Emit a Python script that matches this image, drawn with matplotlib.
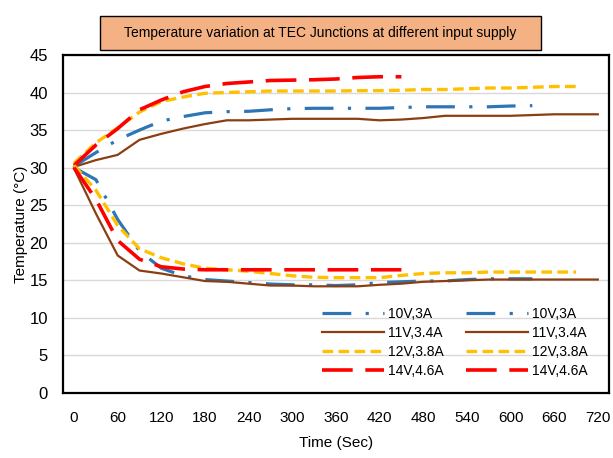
import numpy as np
import matplotlib
matplotlib.use("Agg")
from matplotlib import pyplot as plt
from matplotlib.patches import Rectangle

plt.rcParams['font.family'] = ['Liberation Sans', 'DejaVu Sans']

# time axis, samples every 30 s
time = np.arange(0, 721, 30)

# hot side (heating) readings
blue_heat = [30.2, 32.0, 33.7, 35.0, 36.2, 36.8, 37.3, 37.45, 37.5, 37.7, 37.85, 37.9,
             37.9, 37.9, 37.9, 38.0, 38.1, 38.1, 38.1, 38.1, 38.2, 38.25]
brown_heat = [30.1, 31.0, 31.7, 33.7, 34.5, 35.2, 35.8, 36.3, 36.3, 36.4, 36.5, 36.5,
              36.5, 36.5, 36.3, 36.4, 36.6, 36.9, 36.9, 36.9, 36.9, 37.0, 37.1, 37.1, 37.1]
yellow_heat = [30.6, 33.3, 35.3, 37.4, 38.8, 39.4, 39.9, 40.0, 40.1, 40.2, 40.2, 40.2,
               40.2, 40.25, 40.25, 40.3, 40.4, 40.4, 40.5, 40.6, 40.6, 40.7, 40.8, 40.8]
red_heat = [30.3, 33.0, 35.2, 37.7, 39.0, 40.1, 40.8, 41.2, 41.4, 41.6, 41.65, 41.7,
            41.8, 42.0, 42.1, 42.1]

# cold side (cooling) readings
blue_cool = [30.0, 28.4, 23.1, 18.9, 16.6, 15.6, 15.1, 14.9, 14.7, 14.5, 14.4, 14.4,
             14.3, 14.4, 14.7, 14.8, 14.9, 14.9, 15.1, 15.2, 15.2, 15.2]
brown_cool = [29.9, 23.9, 18.3, 16.3, 15.9, 15.4, 14.9, 14.8, 14.55, 14.3, 14.3, 14.2,
              14.2, 14.2, 14.4, 14.55, 14.8, 14.9, 15.0, 15.1, 15.1, 15.1, 15.1, 15.1, 15.1]
yellow_cool = [30.3, 27.0, 22.3, 19.2, 18.0, 17.2, 16.6, 16.4, 16.2, 15.9, 15.6, 15.4,
               15.35, 15.35, 15.35, 15.65, 15.9, 16.0, 16.0, 16.1, 16.1, 16.1, 16.1, 16.1]
red_cool = [30.0, 25.8, 20.3, 17.8, 16.8, 16.5, 16.4, 16.4, 16.4, 16.4, 16.4, 16.4,
            16.4, 16.4, 16.4, 16.4]

labels = ["10V,3A", "11V,3.4A", "12V,3.8A", "14V,4.6A"]
xticks = np.arange(0, 721, 60)
yticks = np.arange(0, 46, 5)

fig = plt.figure(figsize=(6.13, 4.58), dpi=100)
ax = fig.add_axes([0.103, 0.142, 0.890, 0.738])

styles = [
    dict(color='#2E75B6', lw=2.3, dashes=(9, 4.5, 1, 4.5)),
    dict(color='#8B3E12', lw=1.6, linestyle='-'),
    dict(color='#FFC000', lw=2.4, dashes=(3.2, 1.6)),
    dict(color='#FF0000', lw=2.6, dashes=(8.5, 3.5)),
]

heat = [blue_heat, brown_heat, yellow_heat, red_heat]
cool = [blue_cool, brown_cool, yellow_cool, red_cool]

handles = []
for h, st, lab in zip(heat, styles, labels):
    l, = ax.plot(time[:len(h)], h, label=lab, **st)
    handles.append(l)
for c, st, lab in zip(cool, styles, labels):
    l, = ax.plot(time[:len(c)], c, label=lab, **st)
    handles.append(l)

ax.set_xlim(-15, 735)
ax.set_ylim(0, 45)
ax.set_xticks(xticks)
ax.set_yticks(yticks)
ax.tick_params(length=0, labelsize=11)
ax.tick_params(axis='y', pad=11, labelsize=12)
ax.tick_params(axis='x', pad=13)
ax.grid(axis='y', color='#D9D9D9', lw=1)
ax.set_axisbelow(True)
for s in ax.spines.values():
    s.set_color('black')
    s.set_linewidth(1.6)

ax.set_xlabel("Time (Sec)", fontsize=11, labelpad=8)
ax.set_ylabel("Temperature (°C)", fontsize=11, labelpad=1)

ax.legend(handles=handles, labels=labels + labels, ncol=2, loc='lower right',
          bbox_to_anchor=(0.975, 0.025), frameon=False, fontsize=10,
          handlelength=4.4, handletextpad=0.35, columnspacing=1.6,
          labelspacing=0.35, borderpad=0)

# title box
fig.patches.append(Rectangle((100 / 613, 1 - 50 / 458), 441 / 613, 34 / 458,
                             transform=fig.transFigure, facecolor='#F4B183',
                             edgecolor='black', lw=1))
fig.text(320 / 613, 1 - 33 / 458, "Temperature variation at TEC Junctions at different input supply",
         ha='center', va='center', fontsize=10)

fig.savefig("out.png", dpi=100)
